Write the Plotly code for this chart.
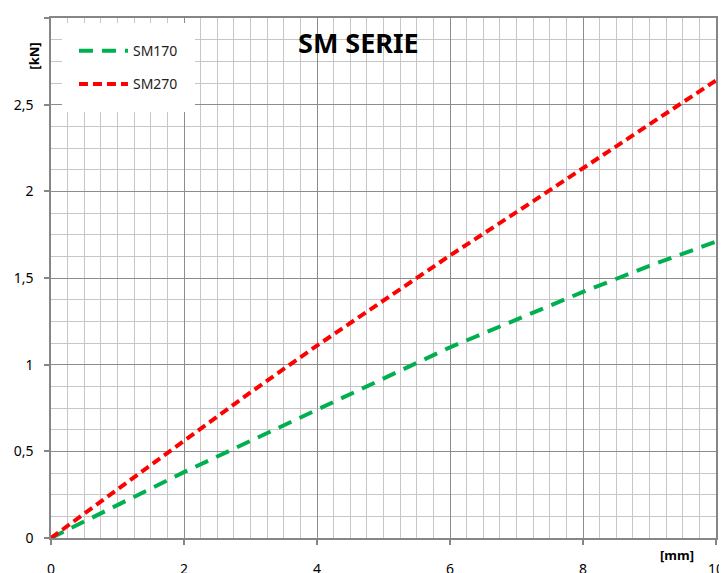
import plotly.graph_objects as go

x_mm = [0, 1, 2, 3, 4, 5, 6, 7, 8, 9, 10]
sm170 = [0, 0.19, 0.38, 0.56, 0.74, 0.92, 1.10, 1.26, 1.42, 1.57, 1.71]
sm270 = [0, 0.28, 0.56, 0.84, 1.11, 1.37, 1.63, 1.88, 2.135, 2.39, 2.64]
x_ticks = [0, 2, 4, 6, 8, 10]
y_ticks = [0, 0.5, 1, 1.5, 2, 2.5, 3]
y_tick_labels = ["0", "0,5", "1", "1,5", "2", "2,5", "3"]

FONT = "Noto Sans"

fig = go.Figure()
fig.add_trace(go.Scatter(x=x_mm, y=sm170, mode="lines", name="SM170",
                         legendgroup="a",
                         line=dict(color="#00B050", width=4, dash="14px,9px")))
fig.add_trace(go.Scatter(x=x_mm, y=sm270, mode="lines", name="SM270",
                         legendgroup="b",
                         line=dict(color="#FF0000", width=4, dash="9px,5px")))

axis_common = dict(
    showline=True, linecolor="#868686", linewidth=1.5, mirror=True,
    ticks="outside", ticklen=5, tickcolor="#868686", tickwidth=1.5,
    showgrid=True, gridcolor="#8c8c8c", gridwidth=1.3,
    zeroline=False, automargin=False,
    tickfont=dict(family=FONT, size=14, color="#000000"),
)

fig.update_xaxes(range=[0, 10], tickvals=x_ticks, ticklabelstandoff=12,
                 minor=dict(dtick=0.25, showgrid=True, gridcolor="#c6c6c6", gridwidth=1.3, ticks=""),
                 **axis_common)
fig.update_yaxes(range=[0, 3], tickvals=y_ticks, ticktext=y_tick_labels, ticklabelstandoff=8,
                 minor=dict(dtick=0.125, showgrid=True, gridcolor="#c6c6c6", gridwidth=1.3, ticks=""),
                 **axis_common)

fig.update_layout(
    width=719, height=565,
    template="none",
    paper_bgcolor="white", plot_bgcolor="white",
    margin=dict(l=43, r=11, t=10, b=35),
    separators=",.",
    showlegend=True,
    legend=dict(x=0.0165, y=0.99, xanchor="left", yanchor="top",
                bgcolor="white", bordercolor="white", borderwidth=12,
                traceorder="grouped", tracegroupgap=12, itemwidth=49,
                font=dict(family=FONT, size=14, color="#222222")),
    annotations=[
        dict(text="<b>SM SERIE</b>", xref="paper", yref="paper", x=0.463, y=0.953,
             showarrow=False, xanchor="center", yanchor="middle",
             font=dict(family=FONT, size=27, color="#000000")),
        dict(text="<b>[kN]</b>", xref="paper", yref="paper", x=-0.026, y=0.927,
             showarrow=False, xanchor="center", yanchor="middle", textangle=-90,
             font=dict(family=FONT, size=13, color="#000000")),
        dict(text="<b>[mm]</b>", xref="paper", yref="paper", x=0.942, y=-0.033,
             showarrow=False, xanchor="center", yanchor="middle",
             font=dict(family=FONT, size=13, color="#000000")),
    ],
)

fig.write_html("out.html")
